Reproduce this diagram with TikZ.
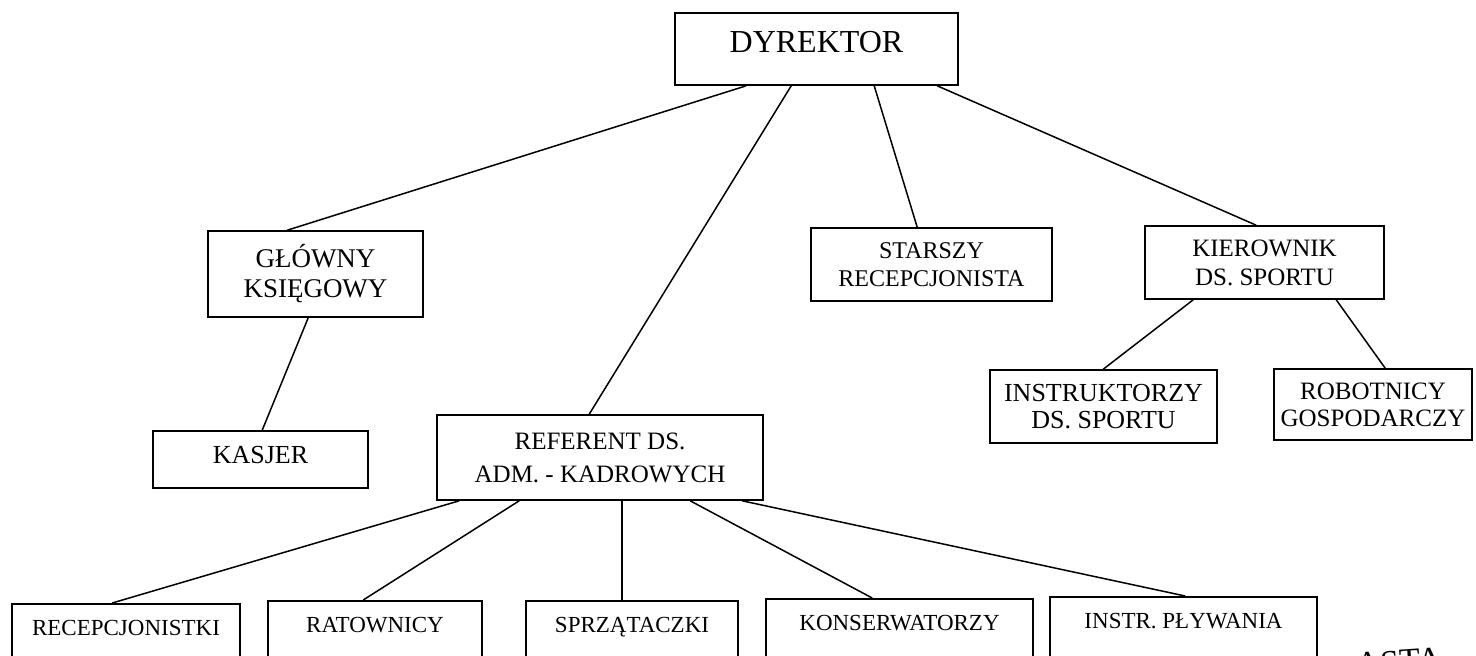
\documentclass[tikz,border=0pt]{standalone}
\usepackage{fontspec}
\setmainfont{Liberation Serif}
\usetikzlibrary{calc}
\begin{document}
\begin{tikzpicture}[x=0.5pt,y=-0.5pt,
  box/.style={draw, line width=0.8pt, rectangle, inner sep=0pt, align=center},
  bot/.style={box, anchor=north, text height=16pt, text depth=40pt, font=\fontsize{11.5}{13}\selectfont},
  conn/.style={line width=0.75pt}]
\useasboundingbox (0,0) rectangle (1476,655);
\clip (0,0) rectangle (1476,655);
\fill[white] (0,0) rectangle (1476,655);

\node[box, minimum width=141.5pt, minimum height=36pt, font=\fontsize{16}{18}\selectfont, text height=10pt, text depth=7pt] (dyr) at (816.5,49) {DYREKTOR};

\node[box, minimum width=107.5pt, minimum height=43pt, font=\fontsize{13.5}{15}\selectfont] (glo) at (315.5,274) {GŁÓWNY\\KSIĘGOWY};
\node[box, minimum width=107.5pt, minimum height=28.5pt, font=\fontsize{13}{15}\selectfont, text height=9pt, text depth=5.5pt] (kas) at (260.5,459.5) {KASJER};
\node[box, minimum width=163pt, minimum height=42.5pt, font=\fontsize{12.5}{16.5}\selectfont] (ref) at (600,457.5) {REFERENT DS.\\ADM. - KADROWYCH};
\node[box, minimum width=120.5pt, minimum height=36.5pt, font=\fontsize{12}{14}\selectfont] (sta) at (931.5,264.5) {STARSZY\\RECEPCJONISTA};
\node[box, minimum width=119.5pt, minimum height=36.5pt, font=\fontsize{12.5}{14.5}\selectfont] (kie) at (1264.5,262.5) {KIEROWNIK\\DS. SPORTU};
\node[box, minimum width=113.5pt, minimum height=36.5pt, font=\fontsize{13}{13.5}\selectfont] (ins) at (1103.5,406.5) {INSTRUKTORZY\\DS. SPORTU};
\node[box, minimum width=99pt, minimum height=35.5pt, font=\fontsize{12.5}{13.5}\selectfont] (rob) at (1373,404.5) {ROBOTNICY\\GOSPODARCZY};

\node[bot, minimum width=114pt] (rec) at (126,603) {RECEPCJONISTKI};
\node[bot, minimum width=107pt] (rat) at (375,600) {RATOWNICY};
\node[bot, minimum width=106pt] (spr) at (632,600) {SPRZĄTACZKI};
\node[bot, minimum width=133.5pt] (kon) at (899.5,598) {KONSERWATORZY};
\node[bot, minimum width=133.5pt] (inp) at (1183.5,596) {INSTR. PŁYWANIA};

\node[font=\fontsize{17}{17}\selectfont, rotate=4, anchor=north, inner sep=0pt] (asta) at (1398,650) {ASTA};

\draw[conn] ($(dyr.south west)+(72,0)$) -- ($(glo.north west)+(80,0)$);
\draw[conn] ($(dyr.south west)+(117,0)$) -- ($(ref.north west)+(153,0)$);
\draw[conn] ($(dyr.south west)+(200,0)$) -- ($(sta.north west)+(107,0)$);
\draw[conn] ($(dyr.south west)+(263,0)$) -- ($(kie.north west)+(112,0)$);
\draw[conn] ($(glo.south west)+(101,0)$) -- ($(kas.north west)+(110,0)$);
\draw[conn] ($(kie.south west)+(49,0)$) -- ($(ins.north west)+(114,0)$);
\draw[conn] ($(kie.south west)+(192,0)$) -- ($(rob.north west)+(112,0)$);
\draw[conn] ($(ref.south west)+(23,0)$) -- ($(rec.north west)+(101,0)$);
\draw[conn] ($(ref.south west)+(83,0)$) -- ($(rat.north west)+(96,0)$);
\draw[conn] ($(ref.south west)+(186,0)$) -- ($(spr.north west)+(97,0)$);
\draw[conn] ($(ref.south west)+(254,0)$) -- ($(kon.north west)+(107,0)$);
\draw[conn] ($(ref.south west)+(306,0)$) -- ($(inp.north west)+(136,0)$);
\end{tikzpicture}
\end{document}
